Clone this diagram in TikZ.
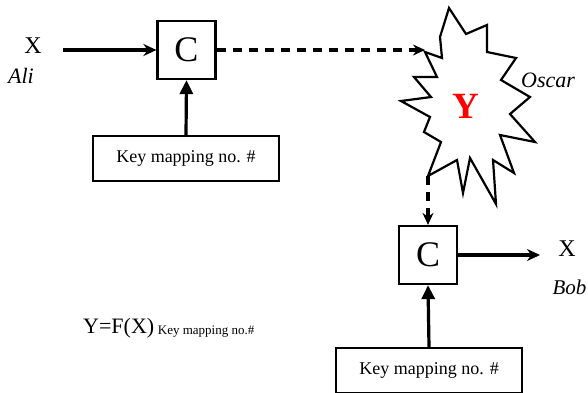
\documentclass[tikz,border=0pt]{standalone}
\usepackage{fontspec}
\setmainfont{Liberation Serif}
\usetikzlibrary{arrows.meta, positioning, calc}

\begin{document}
\begin{tikzpicture}[x=1pt, y=-1pt, >=Stealth, font=\fontsize{18}{20}\selectfont]
\useasboundingbox (0,0) rectangle (588,392);
\tikzset{
  cbox/.style={draw, line width=2.2pt, minimum width=58pt, minimum height=58pt, inner sep=0pt, font=\fontsize{36}{38}\selectfont},
  keybox/.style={draw, line width=1.8pt, minimum width=186pt, minimum height=45pt, inner sep=0pt},
  flow/.style={line width=3.2pt, -{Stealth[length=13pt, width=12pt]}},
  keyflow/.style={line width=3.2pt, -{Triangle[length=14pt, width=13pt]}},
  eaves/.style={line width=3.2pt, dash pattern=on 9pt off 7pt, -{Stealth[length=12pt, width=11pt]}},
  who/.style={font=\itshape\fontsize{22}{24}\selectfont},
  plain/.style={font=\fontsize{24}{26}\selectfont}
}

% --- Emisor: Ali cifra X ---
\node[plain] (xin) at (33, 46) {X};
\node[who] (ali) at (21, 76) {Ali};
\coordinate (xstart) at (63, 50);
\node[cbox] (enc) at (186.5, 50) {C};
\node[keybox] (key1) at (186, 158.5) {Key mapping no. \#};
\draw[flow] (xstart) -- (enc.west);
\draw[keyflow] (key1.north) -- (enc.south);

% --- Oscar (estrella) ---
\coordinate (stin) at (425, 52);
\coordinate (stout) at (428, 176);
\draw[line width=2.2pt, line join=miter]
  (stin) -- (442,58) -- (440,37) -- (449,8) -- (466,34) -- (487,25) -- (487,52)
  -- (516,58) -- (501,80) -- (530,97) -- (510,114) -- (535,142) -- (500,135)
  -- (514,173) -- (493,160) -- (496,204) -- (470,158) -- (463,193) -- (457,160)
  -- (stout) -- (441,142) -- (424,132) -- (430,117) -- (401,101) -- (431,97)
  -- (414,77) -- (437,77) -- cycle;
\node[text=red, font=\bfseries\fontsize{37}{39}\selectfont] (y) at (466, 106) {Y};
\node[who] (oscar) at (548, 80) {Oscar};
\draw[eaves] (enc.east) -- (enc.east -| stin);

% --- Receptor: Bob descifra ---
\node[cbox] (dec) at (428, 255) {C};
\node[keybox] (key2) at (429, 370.5) {Key mapping no. \#};
\node[plain] (xout) at (567, 249) {X};
\node[who, anchor=west, font=\itshape\fontsize{21}{23}\selectfont] (bob) at (549, 287) {Bob};
\coordinate (xend) at (540, 255);
\draw[eaves] (stout) -- (dec.north);
\draw[flow] (dec.east) -- (xend);
\draw[keyflow] (key2.north) -- (dec.south);

% Formula
\node[anchor=base west, inner sep=0pt] (formula) at (83, 333)
  {\fontsize{22}{24}\selectfont Y=F(X)\,\raisebox{-1.5pt}{\fontsize{13}{15}\selectfont Key mapping no.\#}};

\end{tikzpicture}
\end{document}
